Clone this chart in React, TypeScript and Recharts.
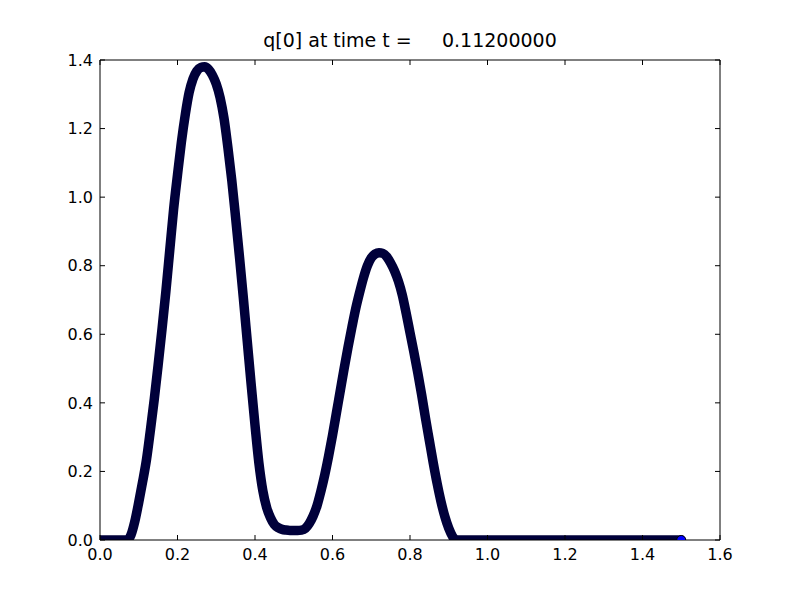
import { LineChart, Line, XAxis, YAxis } from 'recharts'

// sample positions along x (dense where the curve bends, sparse on the flat tail)
const xPoints = [
  0, 0.07, 0.08, 0.09, 0.1, 0.11, 0.12, 0.13, 0.14, 0.15, 0.16, 0.17, 0.18, 0.19,
  0.2, 0.21, 0.22, 0.23, 0.24, 0.25, 0.26, 0.27, 0.28, 0.29, 0.3, 0.31, 0.32, 0.33,
  0.34, 0.35, 0.36, 0.37, 0.38, 0.39, 0.4, 0.41, 0.42, 0.43, 0.44, 0.45, 0.46, 0.47,
  0.48, 0.49, 0.5, 0.51, 0.52, 0.53, 0.54, 0.55, 0.56, 0.57, 0.58, 0.59, 0.6, 0.61,
  0.62, 0.63, 0.64, 0.65, 0.66, 0.67, 0.68, 0.69, 0.7, 0.71, 0.72, 0.73, 0.74, 0.75,
  0.76, 0.77, 0.78, 0.79, 0.8, 0.81, 0.82, 0.83, 0.84, 0.85, 0.86, 0.87, 0.88, 0.89,
  0.9, 0.91, 0.92, 1.0, 1.1, 1.2, 1.3, 1.4, 1.5,
]

// q[0]
const qValues = [
  0, 0, 0.015, 0.055, 0.11, 0.17, 0.235, 0.32, 0.41, 0.51, 0.615, 0.725, 0.845, 0.965,
  1.065, 1.16, 1.24, 1.305, 1.345, 1.368, 1.378, 1.38, 1.373, 1.356, 1.33, 1.29, 1.23, 1.145,
  1.05, 0.94, 0.825, 0.705, 0.58, 0.455, 0.335, 0.225, 0.145, 0.095, 0.065, 0.045, 0.036, 0.031,
  0.029, 0.028, 0.028, 0.028, 0.029, 0.034, 0.048, 0.07, 0.1, 0.142, 0.19, 0.245, 0.305, 0.37,
  0.435, 0.5, 0.562, 0.62, 0.675, 0.722, 0.765, 0.8, 0.823, 0.834, 0.838, 0.836, 0.826, 0.808,
  0.785, 0.755, 0.715, 0.662, 0.605, 0.548, 0.488, 0.424, 0.355, 0.29, 0.225, 0.165, 0.112, 0.068,
  0.034, 0.01, 0, 0, 0, 0, 0, 0, 0,
]

const xTicks = [0, 0.2, 0.4, 0.6, 0.8, 1.0, 1.2, 1.4, 1.6]
const yTicks = [0, 0.2, 0.4, 0.6, 0.8, 1.0, 1.2, 1.4]

const title = 'q[0] at time t =     0.11200000'

const font = '"DejaVu Sans", sans-serif'

const data = xPoints.map((x, i) => ({ x, q: qValues[i] }))

export default function App() {
  const tickLen = 5

  return (
    <div style={{ position: 'relative', width: 800, height: 600, background: '#fff', fontFamily: font }}>
      <style>{`body { margin: 0; }`}</style>
      <div
        style={{
          position: 'absolute',
          top: 31,
          left: 0,
          width: 820,
          textAlign: 'center',
          fontSize: 19,
          lineHeight: '19px',
          whiteSpace: 'pre',
          color: '#000',
        }}
      >
        {title}
      </div>
      <LineChart width={800} height={600} data={data} margin={{ top: 59, right: 79, bottom: 30, left: 60 }}>
        <XAxis
          xAxisId="bottom"
          dataKey="x"
          type="number"
          domain={[0, 1.6]}
          ticks={xTicks}
          allowDataOverflow
          height={30}
          tickSize={0}
          tickMargin={0}
          tickLine={false}
          axisLine={{ stroke: '#000' }}
          interval={0}
          tick={({ x, y, payload }: any) => (
            <g key={`xb-${payload.value}`}>
              <line x1={x} x2={x} y1={y} y2={y - tickLen} stroke="#000" />
              <text x={x} y={y + 20} textAnchor="middle" fontSize={16} fontFamily={font} fill="#000">
                {Number(payload.value).toFixed(1)}
              </text>
            </g>
          )}
        />
        <XAxis
          xAxisId="top"
          orientation="top"
          dataKey="x"
          type="number"
          domain={[0, 1.6]}
          ticks={xTicks}
          allowDataOverflow
          height={1}
          tickSize={0}
          tickMargin={0}
          tickLine={false}
          axisLine={{ stroke: '#000' }}
          interval={0}
          tick={({ x, y, payload }: any) => (
            <line key={`xt-${payload.value}`} x1={x} x2={x} y1={y} y2={y + tickLen} stroke="#000" />
          )}
        />
        <YAxis
          yAxisId="left"
          type="number"
          domain={[0, 1.4]}
          ticks={yTicks}
          allowDataOverflow
          width={40}
          tickSize={0}
          tickMargin={0}
          tickLine={false}
          axisLine={{ stroke: '#000' }}
          interval={0}
          tick={({ x, y, payload }: any) => (
            <g key={`yl-${payload.value}`}>
              <line x1={x} x2={x + tickLen} y1={y} y2={y} stroke="#000" />
              <text x={x - 7} y={y} dy="0.36em" textAnchor="end" fontSize={16} fontFamily={font} fill="#000">
                {Number(payload.value).toFixed(1)}
              </text>
            </g>
          )}
        />
        <YAxis
          yAxisId="right"
          orientation="right"
          type="number"
          domain={[0, 1.4]}
          ticks={yTicks}
          allowDataOverflow
          width={1}
          tickSize={0}
          tickMargin={0}
          tickLine={false}
          axisLine={{ stroke: '#000' }}
          interval={0}
          tick={({ x, y, payload }: any) => (
            <line key={`yr-${payload.value}`} x1={x} x2={x - tickLen} y1={y} y2={y} stroke="#000" />
          )}
        />
        <Line
          xAxisId="bottom"
          yAxisId="left"
          dataKey="q"
          type="monotone"
          stroke="#00003a"
          strokeWidth={9.5}
          strokeLinecap="round"
          strokeLinejoin="round"
          isAnimationActive={false}
          dot={({ cx, cy, index }: any) =>
            index === data.length - 1 ? (
              <circle key="last" cx={cx} cy={cy} r={4.5} fill="#0000ff" stroke="#000" strokeWidth={1} />
            ) : (
              <g key={`d-${index}`} />
            )
          }
          activeDot={false}
        />
      </LineChart>
    </div>
  )
}
